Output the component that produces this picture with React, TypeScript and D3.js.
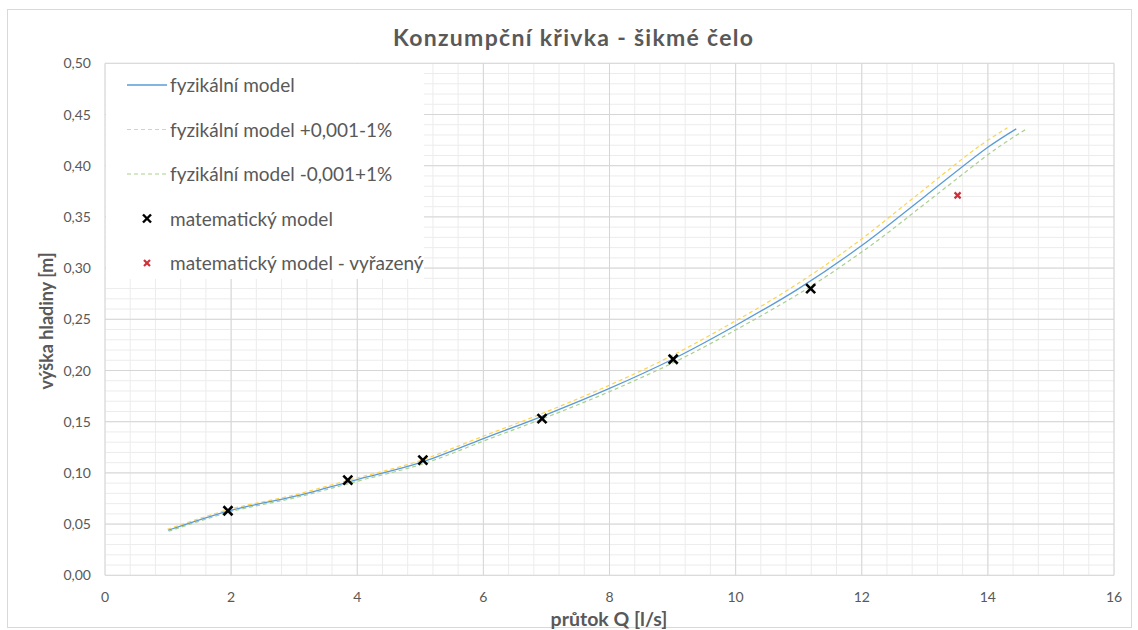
import React from "react";
import * as d3 from "d3";

// Physical model rating curve: discharge Q [l/s] vs. water level h [m]
const modelQ = [1.0, 2.0, 3.0, 4.0, 5.0, 6.0, 7.0, 8.0, 9.0, 10.0, 11.0, 12.0, 13.0, 14.0, 14.45];
const modelH = [0.044, 0.0635, 0.077, 0.0935, 0.11, 0.1335, 0.157, 0.1825, 0.211, 0.244, 0.28, 0.322, 0.37, 0.418, 0.436];

// Model bounds: +0,001 m / -1 % Q
const upperQ = [0.99, 1.98, 2.97, 3.96, 4.95, 5.94, 6.93, 7.92, 8.91, 9.9, 10.89, 11.88, 12.87, 13.86, 14.31];
const upperH = [0.045, 0.0645, 0.078, 0.0945, 0.111, 0.1345, 0.158, 0.1835, 0.212, 0.245, 0.281, 0.323, 0.371, 0.419, 0.437];

// Model bounds: -0,001 m / +1 % Q
const lowerQ = [1.01, 2.02, 3.03, 4.04, 5.05, 6.06, 7.07, 8.08, 9.09, 10.1, 11.11, 12.12, 13.13, 14.14, 14.59];
const lowerH = [0.043, 0.0625, 0.076, 0.0925, 0.109, 0.1325, 0.156, 0.1815, 0.21, 0.243, 0.279, 0.321, 0.369, 0.417, 0.435];

// Mathematical model points
const mathQ = [1.95, 3.85, 5.04, 6.93, 9.01, 11.19];
const mathH = [0.063, 0.093, 0.1125, 0.153, 0.211, 0.28];

// Rejected point
const rejectedQ = [13.52];
const rejectedH = [0.371];

const xTicks = [0, 2, 4, 6, 8, 10, 12, 14, 16];
const yTicks = [0, 0.05, 0.1, 0.15, 0.2, 0.25, 0.3, 0.35, 0.4, 0.45, 0.5];

const legendLabels = [
  "fyzikální model",
  "fyzikální model +0,001-1%",
  "fyzikální model -0,001+1%",
  "matematický model",
  "matematický model - vyřazený",
];

const W = 1138;
const H = 630;
const plot = { left: 105, right: 1114, top: 63.3, bottom: 575.3 };
const FONT = "Lato, 'Open Sans', sans-serif";
const TEXT = "#595959";

const zip = (xs: number[], ys: number[]) => xs.map((x, i) => [x, ys[i]] as [number, number]);

function Cross({ cx, cy, r, color, sw }: { cx: number; cy: number; r: number; color: string; sw: number }) {
  return (
    <g stroke={color} strokeWidth={sw} strokeLinecap="butt">
      <line x1={cx - r} y1={cy - r} x2={cx + r} y2={cy + r} />
      <line x1={cx - r} y1={cy + r} x2={cx + r} y2={cy - r} />
    </g>
  );
}

export default function App() {
  const x = d3.scaleLinear().domain([0, 16]).range([plot.left, plot.right]);
  const y = d3.scaleLinear().domain([0, 0.5]).range([plot.bottom, plot.top]);

  const line = d3
    .line<[number, number]>()
    .x((d) => x(d[0]))
    .y((d) => y(d[1]))
    .curve(d3.curveCatmullRom.alpha(0.5));

  const minorX = d3.range(0, 16.001, 0.4);
  const minorY = d3.range(0, 0.5001, 0.01);

  const legendX = 127;
  const legendRows = [85, 129.5, 174, 218.5, 263];

  return (
    <svg
      width={W}
      height={H}
      style={{ position: "absolute", left: 0, top: 0, background: "#fff" }}
      fontFamily={FONT}
    >
      <rect x={7.5} y={9.5} width={1124} height={618} fill="#fff" stroke="#d9d9d9" />

      {/* minor grid */}
      <g stroke="#ececec" strokeWidth={1}>
        {minorX.map((v, i) => (
          <line key={"mx" + i} x1={x(v)} x2={x(v)} y1={plot.top} y2={plot.bottom} />
        ))}
        {minorY.map((v, i) => (
          <line key={"my" + i} x1={plot.left} x2={plot.right} y1={y(v)} y2={y(v)} />
        ))}
      </g>
      {/* major grid */}
      <g stroke="#d6d6d6" strokeWidth={1}>
        {xTicks.map((v) => (
          <line key={"gx" + v} x1={x(v)} x2={x(v)} y1={plot.top} y2={plot.bottom} />
        ))}
        {yTicks.map((v) => (
          <line key={"gy" + v} x1={plot.left} x2={plot.right} y1={y(v)} y2={y(v)} />
        ))}
      </g>

      {/* y tick labels */}
      <g fill={TEXT} fontSize={14} textAnchor="end">
        {yTicks.map((v) => (
          <text key={"ty" + v} x={91} y={y(v) + 5}>
            {v.toFixed(2).replace(".", ",")}
          </text>
        ))}
      </g>
      {/* x tick labels */}
      <g fill={TEXT} fontSize={14} textAnchor="middle">
        {xTicks.map((v) => (
          <text key={"tx" + v} x={x(v)} y={602}>
            {String(v)}
          </text>
        ))}
      </g>

      {/* series */}
      <path d={line(zip(upperQ, upperH)) || ""} fill="none" stroke="#FFD34D" strokeWidth={1.2} strokeDasharray="4,3" />
      <path d={line(zip(lowerQ, lowerH)) || ""} fill="none" stroke="#A9D08E" strokeWidth={1.2} strokeDasharray="4,3" />
      <path d={line(zip(modelQ, modelH)) || ""} fill="none" stroke="#5B9BD5" strokeWidth={1.3} />

      {mathQ.map((q, i) => (
        <Cross key={"m" + i} cx={x(q)} cy={y(mathH[i])} r={4.5} color="#000" sw={2.6} />
      ))}
      {rejectedQ.map((q, i) => (
        <Cross key={"r" + i} cx={x(q)} cy={y(rejectedH[i])} r={3} color="#D0303A" sw={2.2} />
      ))}

      {/* legend */}
      <rect x={106} y={64} width={318} height={215} fill="#fff" />
      <g fill={TEXT} fontSize={19}>
        <line x1={legendX} x2={legendX + 40} y1={legendRows[0]} y2={legendRows[0]} stroke="#5B9BD5" strokeWidth={1.3} />
        <line x1={legendX} x2={legendX + 40} y1={legendRows[1]} y2={legendRows[1]} stroke="#FFD34D" strokeWidth={1.2} strokeDasharray="4,3" />
        <line x1={legendX} x2={legendX + 40} y1={legendRows[2]} y2={legendRows[2]} stroke="#A9D08E" strokeWidth={1.2} strokeDasharray="4,3" />
        <Cross cx={legendX + 20} cy={legendRows[3]} r={4} color="#000" sw={2.4} />
        <Cross cx={legendX + 20} cy={legendRows[4]} r={3} color="#D0303A" sw={2.2} />
        {legendLabels.map((t, i) => (
          <text key={t} x={legendX + 43} y={legendRows[i] + 7}>
            {t}
          </text>
        ))}
      </g>

      {/* title and axis titles */}
      <text
        x={573}
        y={46}
        textAnchor="middle"
        fontSize={23}
        fontWeight="bold"
        fill={TEXT}
        textLength={360}
        lengthAdjust="spacing"
      >
        Konzumpční křivka - šikmé čelo
      </text>
      <text
        transform={`translate(53,321) rotate(-90)`}
        textAnchor="middle"
        fontSize={18}
        fontWeight="bold"
        fill={TEXT}
      >
        výška hladiny [m]
      </text>
      <text x={609} y={626} textAnchor="middle" fontSize={19.5} fontWeight="bold" fill={TEXT}>
        průtok Q [l/s]
      </text>
    </svg>
  );
}
